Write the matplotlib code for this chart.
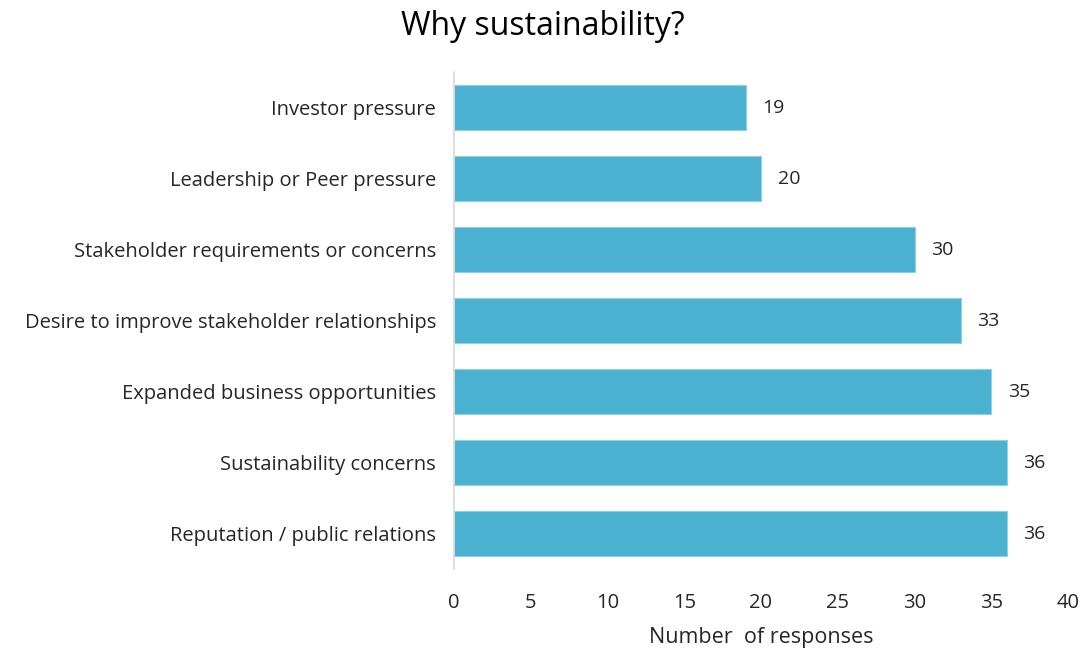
import matplotlib
matplotlib.use("Agg")
import matplotlib.pyplot as plt

plt.rcParams["font.family"] = ["Open Sans", "DejaVu Sans"]

categories = [
    "Investor pressure",
    "Leadership or Peer pressure",
    "Stakeholder requirements or concerns",
    "Desire to improve stakeholder relationships",
    "Expanded business opportunities",
    "Sustainability concerns",
    "Reputation / public relations",
]
responses = [19, 20, 30, 33, 35, 36, 36]
xticks = [0, 5, 10, 15, 20, 25, 30, 35, 40]

BAR = "#4bb1d0"
TEXT = "#262626"

fig = plt.figure(figsize=(10.85, 6.53), dpi=100)
ax = fig.add_axes([454 / 1085, 1 - 569 / 653, (1068 - 454) / 1085, (569 - 72) / 653])

ypos = list(range(len(categories)))
ax.barh(ypos, responses, height=0.64, color=BAR, edgecolor="#8fd0e3", linewidth=0.8, zorder=2)
for y, v in zip(ypos, responses):
    ax.annotate(str(v), (v, y), xytext=(12, 0), textcoords="offset points",
                ha="left", va="center", fontsize=14, color=TEXT)

ax.set_ylim(len(categories) - 0.5, -0.5)
ax.set_yticks(ypos)
ax.set_yticklabels(categories, fontsize=14.5, color=TEXT)
ax.set_xlim(0, 40)
ax.set_xticks(xticks)
ax.set_xticklabels([str(t) for t in xticks], fontsize=14.5, color=TEXT)
ax.tick_params(axis="both", length=0)
ax.tick_params(axis="y", pad=13)
ax.tick_params(axis="x", pad=17)

for side in ("top", "right", "bottom"):
    ax.spines[side].set_visible(False)
ax.spines["left"].set_color("#d9d9d9")
ax.spines["left"].set_linewidth(1.2)

ax.set_xlabel("Number  of responses", fontsize=15.5, color=TEXT, labelpad=10)
fig.suptitle("Why sustainability?", fontsize=23, color="#000000", y=0.985)

fig.savefig("out.png", dpi=100, facecolor="white")
